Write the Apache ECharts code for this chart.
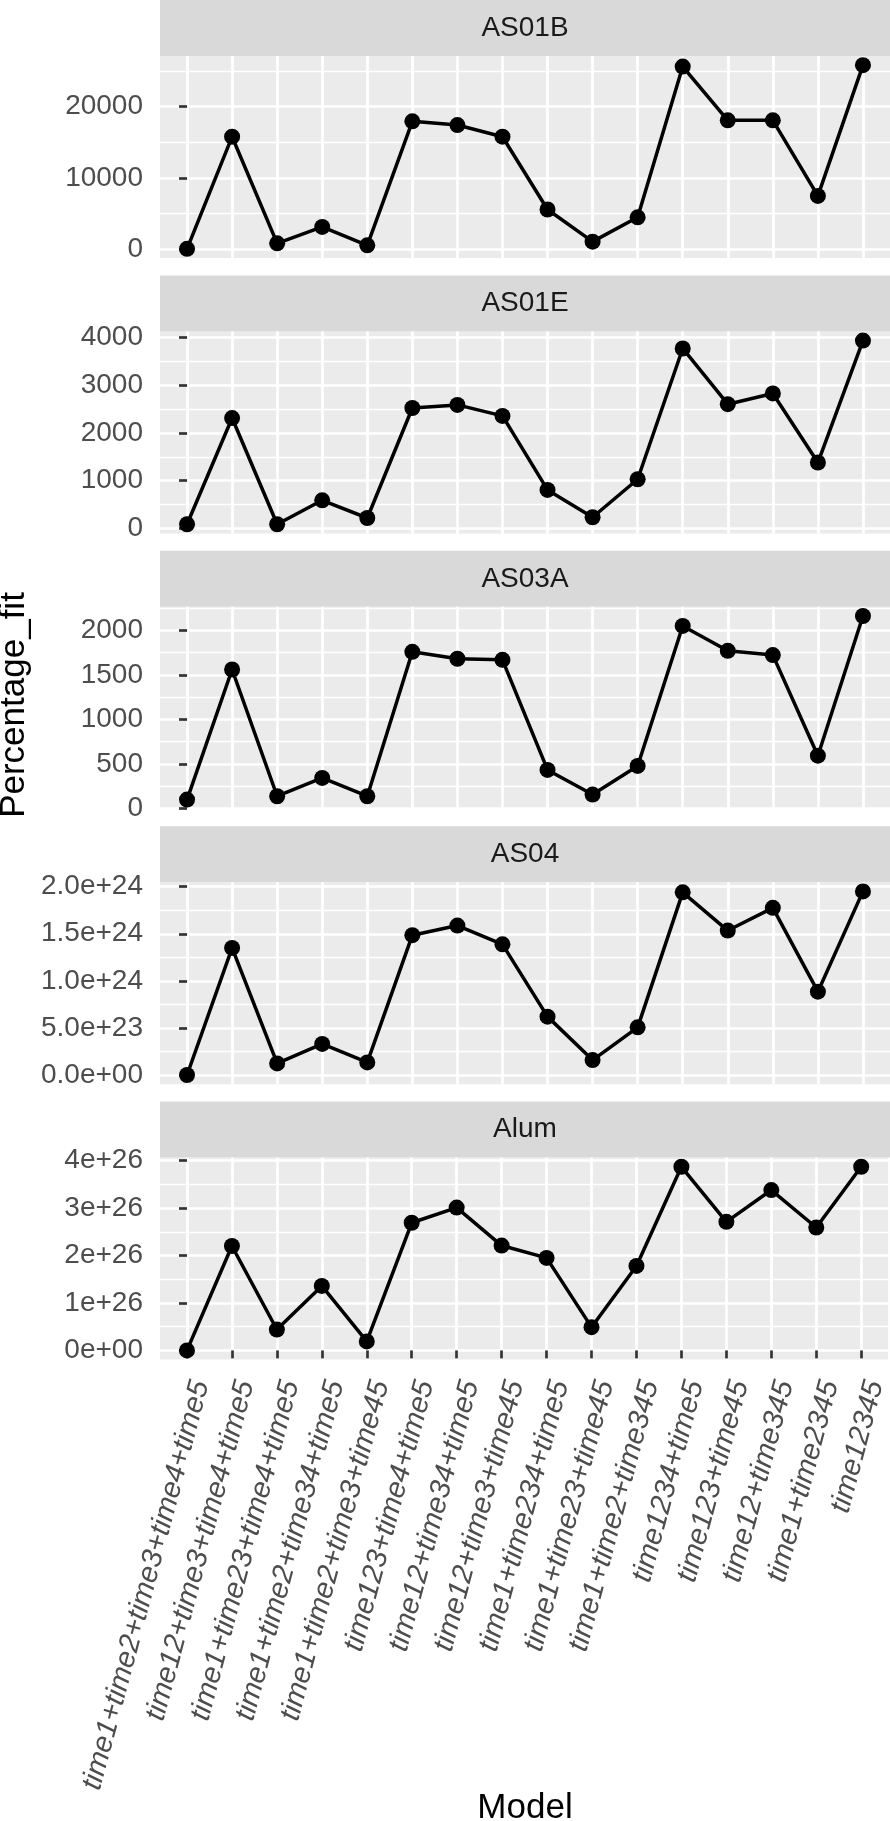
<!DOCTYPE html>
<html>
<head>
<meta charset="utf-8">
<script src="https://cdn.jsdelivr.net/npm/echarts@6/dist/echarts.min.js"></script>
<style>
  html, body { margin: 0; padding: 0; background: #fff; }
  #chart { width: 890px; height: 1821px; }
</style>
</head>
<body>
<div id="chart"></div>
<script>
// x categories (model formulas)
const models = [
  'time1+time2+time3+time4+time5',
  'time12+time3+time4+time5',
  'time1+time23+time4+time5',
  'time1+time2+time34+time5',
  'time1+time2+time3+time45',
  'time123+time4+time5',
  'time12+time34+time5',
  'time12+time3+time45',
  'time1+time234+time5',
  'time1+time23+time45',
  'time1+time2+time345',
  'time1234+time5',
  'time123+time45',
  'time12+time345',
  'time1+time2345',
  'time12345'
]

const facets = ['AS01B', 'AS01E', 'AS03A', 'AS04', 'Alum']

// Percentage_fit per facet
const as01b = [30, 15780, 800, 3100, 520, 17940, 17420, 15780, 5550, 1040, 4460, 25630, 18080, 18080, 7460, 25830]
const as01e = [90, 2310, 90, 590, 220, 2520, 2585, 2355, 807, 236, 1030, 3765, 2600, 2825, 1380, 3930]
const as03a = [100, 1560, 138, 343, 138, 1758, 1680, 1668, 433, 157, 478, 2048, 1769, 1721, 593, 2160]
const as04 = [0, 1.35e24, 1.23e23, 3.3e23, 1.34e23, 1.485e24, 1.587e24, 1.388e24, 6.2e23, 1.59e23, 5.06e23, 1.94e24, 1.534e24, 1.775e24, 8.85e23, 1.95e24]
const alum = [0, 2.2e26, 4.4e25, 1.36e26, 1.9e25, 2.69e26, 3.01e26, 2.21e26, 1.95e26, 4.9e25, 1.78e26, 3.87e26, 2.71e26, 3.38e26, 2.59e26, 3.87e26]
const facetValues = [as01b, as01e, as03a, as04, alum]

// y tick values and labels
const yTicks = [
  [0, 10000, 20000],
  [0, 1000, 2000, 3000, 4000],
  [0, 500, 1000, 1500, 2000],
  [0, 5e23, 1e24, 1.5e24, 2e24],
  [0, 1e26, 2e26, 3e26, 4e26]
]
const yTickLabels = [
  ['0', '10000', '20000'],
  ['0', '1000', '2000', '3000', '4000'],
  ['0', '500', '1000', '1500', '2000'],
  ['0.0e+00', '5.0e+23', '1.0e+24', '1.5e+24', '2.0e+24'],
  ['0e+00', '1e+26', '2e+26', '3e+26', '4e+26']
]
const yMinorTicks = [
  [5000, 15000, 25000],
  [500, 1500, 2500, 3500],
  [250, 750, 1250, 1750, 2250],
  [2.5e23, 7.5e23, 1.25e24, 1.75e24],
  [5e25, 1.5e26, 2.5e26, 3.5e26]
]

const FONT = '"Liberation Sans", Arial, Helvetica, sans-serif'
const PANEL_STEP = 275.4
const STRIP_H = 56
const PLOT_H = 202
const PLOT_LEFT = 160
const PLOT_W = 730

// ggplot style 5% expansion of continuous range
function expandRange(vals) {
  const lo = Math.min(...vals)
  const hi = Math.max(...vals)
  const pad = (hi - lo) * 0.05
  return [lo - pad, hi + pad]
}

const catIdx = models.map((m, i) => i)

const chart = echarts.init(document.getElementById('chart'))

const grid = []
const xAxis = []
const yAxis = []
const series = []
const graphic = []

facets.forEach((name, i) => {
  const top = i * PANEL_STEP
  const isLast = i === facets.length - 1
  const range = expandRange(facetValues[i])

  grid.push({
    left: PLOT_LEFT,
    top: top + STRIP_H,
    width: PLOT_W,
    height: PLOT_H,
    show: true,
    backgroundColor: '#EBEBEB',
    borderWidth: 0
  })

  xAxis.push({
    type: 'value',
    gridIndex: i,
    min: -0.6,
    max: models.length - 1 + 0.6,
    axisLine: { show: false },
    axisTick: {
      show: isLast,
      customValues: catIdx,
      length: 8,
      lineStyle: { color: '#333333', width: 2.7 }
    },
    axisLabel: {
      show: isLast,
      customValues: catIdx,
      rotate: 75,
      margin: 18,
      verticalAlign: 'top',
      fontFamily: FONT,
      fontStyle: 'italic',
      fontSize: 29,
      color: '#4D4D4D',
      formatter: function(v) {
        return models[Math.round(v)]
      }
    },
    splitLine: { show: true, lineStyle: { color: '#FFFFFF', width: 2.7 } },
    minorSplitLine: { show: false }
  })

  // major y axis (labels, ticks, major grid)
  yAxis.push({
    type: 'value',
    gridIndex: i,
    position: 'left',
    min: range[0],
    max: range[1],
    axisLine: { show: false },
    axisTick: {
      show: true,
      customValues: yTicks[i],
      length: 8,
      lineStyle: { color: '#333333', width: 2.7 }
    },
    axisLabel: {
      customValues: yTicks[i],
      margin: 17,
      fontFamily: FONT,
      fontSize: 28,
      color: '#4D4D4D',
      formatter: function(v) {
        const k = yTicks[i].findIndex(
          t => Math.abs(t - v) <= 1e-9 * Math.max(1, Math.abs(t))
        )
        return k >= 0 ? yTickLabels[i][k] : ''
      }
    },
    splitLine: { show: true, lineStyle: { color: '#FFFFFF', width: 2.7 } }
  })

  // minor y axis (only the thin grid lines)
  yAxis.push({
    type: 'value',
    gridIndex: i,
    position: 'left',
    min: range[0],
    max: range[1],
    axisLine: { show: false },
    axisTick: { show: false, customValues: yMinorTicks[i] },
    axisLabel: { show: false },
    splitLine: { show: true, lineStyle: { color: '#FFFFFF', width: 1.4 } }
  })

  series.push({
    type: 'line',
    name: name,
    xAxisIndex: i,
    yAxisIndex: i * 2,
    data: facetValues[i].map((v, j) => [j, v]),
    symbol: 'circle',
    symbolSize: 16,
    itemStyle: { color: '#000000' },
    lineStyle: { color: '#000000', width: 3.5 },
    clip: false,
    z: 5
  })

  // facet strip
  graphic.push({
    type: 'rect',
    shape: { x: PLOT_LEFT, y: top, width: PLOT_W, height: STRIP_H },
    style: { fill: '#D9D9D9' },
    silent: true
  })
  graphic.push({
    type: 'text',
    x: PLOT_LEFT + PLOT_W / 2,
    y: top + STRIP_H / 2,
    style: {
      text: name,
      fill: '#1A1A1A',
      font: '28px ' + FONT,
      textAlign: 'center',
      textVerticalAlign: 'middle'
    },
    silent: true
  })
})

// axis titles
graphic.push({
  type: 'text',
  x: 14,
  y: 705,
  rotation: Math.PI / 2,
  style: {
    text: 'Percentage_fit',
    fill: '#000000',
    font: '35px ' + FONT,
    textAlign: 'center',
    textVerticalAlign: 'middle'
  },
  silent: true
})
graphic.push({
  type: 'text',
  x: PLOT_LEFT + PLOT_W / 2,
  y: 1808,
  style: {
    text: 'Model',
    fill: '#000000',
    font: '35px ' + FONT,
    textAlign: 'center',
    textVerticalAlign: 'middle'
  },
  silent: true
})

const option = {
  animation: false,
  backgroundColor: '#FFFFFF',
  grid: grid,
  xAxis: xAxis,
  yAxis: yAxis,
  series: series,
  graphic: graphic
}

chart.setOption(option)
</script>
</body>
</html>
